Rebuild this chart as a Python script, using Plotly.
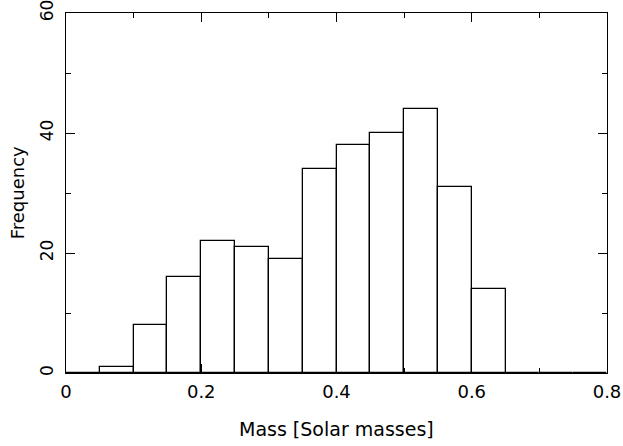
import plotly.graph_objects as go

bin_left = [0.0, 0.05, 0.10, 0.15, 0.20, 0.25, 0.30, 0.35, 0.40, 0.45, 0.50, 0.55, 0.60, 0.65, 0.70, 0.75]
counts = [0, 1, 8, 16, 22, 21, 19, 34, 38, 40, 44, 31, 14, 0, 0, 0]
bin_width = 0.05
x_ticks = [0, 0.2, 0.4, 0.6, 0.8]
x_ticklabels = ["0", "0.2", "0.4", "0.6", "0.8"]
y_ticks = [0, 20, 40, 60]
x_title = "Mass [Solar masses]"
y_title = "Frequency"

centers = [b + bin_width / 2 for b in bin_left]

fig = go.Figure()
fig.add_trace(go.Bar(
    x=centers, y=counts, width=[bin_width] * len(counts),
    marker=dict(color="white", line=dict(color="black", width=1.3)),
    showlegend=False,
))

fam = "DejaVu Sans, Liberation Sans, sans-serif"
tick_font = dict(family=fam, size=18, color="black")
ytick_font = dict(family=fam, size=17, color="black")
xtitle_font = dict(family=fam, size=19, color="black")
ytitle_font = dict(family=fam, size=18, color="black")

fig.update_layout(
    width=623, height=446,
    margin=dict(l=66, r=16, t=13, b=73),
    paper_bgcolor="white", plot_bgcolor="white",
    font=tick_font,
    bargap=0,
    xaxis=dict(
        range=[0, 0.8], tickvals=x_ticks, ticktext=x_ticklabels,
        ticks="inside", ticklen=9, tickwidth=1, tickcolor="black",
        minor=dict(ticks="inside", ticklen=5, dtick=0.1, tickcolor="black", tickwidth=1),
        showline=True, linecolor="black", linewidth=1.3, mirror="allticks",
        showgrid=False, zeroline=False, automargin=False,
        ticklabelstandoff=2, ticklabeloverflow="allow",
        tickfont=tick_font,
    ),
    yaxis=dict(
        range=[0, 60], tickvals=y_ticks,
        ticks="inside", ticklen=9, tickwidth=1, tickcolor="black",
        minor=dict(ticks="inside", ticklen=5, dtick=10, tickcolor="black", tickwidth=1),
        showline=True, linecolor="black", linewidth=1.3, mirror="allticks",
        showgrid=False, zeroline=False, tickangle=-90, automargin=False,
        ticklabelstandoff=5, ticklabeloverflow="allow",
        tickfont=ytick_font,
    ),
    annotations=[
        dict(text=x_title, xref="paper", yref="paper", x=0.5, y=-0.155,
             xanchor="center", yanchor="middle", showarrow=False, font=xtitle_font),
        dict(text=y_title, xref="paper", yref="paper", x=-0.09, y=0.5,
             xanchor="center", yanchor="middle", textangle=-90, showarrow=False, font=ytitle_font),
    ],
)

fig.write_html("out.html")
